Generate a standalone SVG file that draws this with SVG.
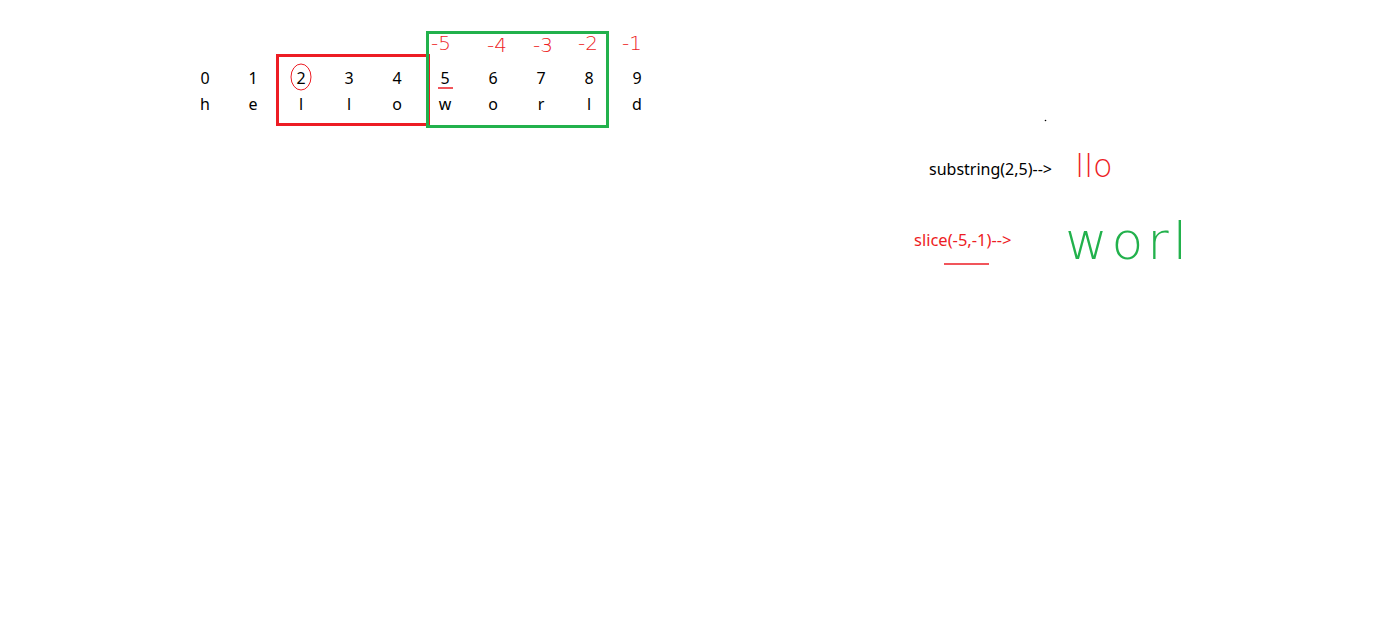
<svg xmlns="http://www.w3.org/2000/svg" width="1379" height="635" viewBox="0 0 1379 635">
<style>
.t{font-family:"Noto Sans","Liberation Sans",sans-serif;font-size:16px;fill:#000;text-anchor:middle}
.hw{font-family:"DejaVu Sans","Liberation Sans",sans-serif;font-weight:200;fill:none;text-anchor:middle}
.red{fill:#ed1c24}
.green{fill:#22b14c}
</style>
<rect width="1379" height="635" fill="#fff"/>
<g id="index-row">
<text class="t" x="205" y="84">0</text>
<text class="t" x="253" y="84">1</text>
<text class="t" x="301" y="84">2</text>
<text class="t" x="349" y="84">3</text>
<text class="t" x="397" y="84">4</text>
<text class="t" x="445" y="84">5</text>
<text class="t" x="493" y="84">6</text>
<text class="t" x="541" y="84">7</text>
<text class="t" x="589" y="84">8</text>
<text class="t" x="637" y="84">9</text>
</g>
<g id="char-row">
<text class="t" x="205" y="110">h</text>
<text class="t" x="253" y="110">e</text>
<text class="t" x="301" y="110">l</text>
<text class="t" x="349" y="110">l</text>
<text class="t" x="397" y="110">o</text>
<text class="t" x="445" y="110">w</text>
<text class="t" x="493" y="110">o</text>
<text class="t" x="541" y="110">r</text>
<text class="t" x="589" y="110">l</text>
<text class="t" x="637" y="110">d</text>
</g>
<g id="red-box">
<rect x="277.5" y="55.5" width="151" height="69" fill="none" stroke="#ed1c24" stroke-width="3"/>
<ellipse cx="301" cy="77" rx="10" ry="13" fill="none" stroke="#ed1c24" stroke-width="1"/>
</g>
<g id="green-box">
<rect x="427.5" y="32.5" width="180" height="94" fill="none" stroke="#22b14c" stroke-width="3"/>
<line x1="438" y1="88" x2="453" y2="88" stroke="#ed1c24" stroke-width="1.5"/>
</g>
<g id="negative-indices" font-size="20">
<text class="hw red" x="441" y="50">-5</text>
<text class="hw red" x="497" y="52">-4</text>
<text class="hw red" x="543" y="52">-3</text>
<text class="hw red" x="588" y="50">-2</text>
<text class="hw red" x="632" y="50">-1</text>
</g>
<circle cx="1045.5" cy="120.5" r="0.8" fill="#000"/>
<g id="substring">
<text x="929" y="175" font-family="Noto Sans,Liberation Sans,sans-serif" font-size="16" fill="#000">substring(2,5)--&gt;</text>
<text class="hw red" x="1094" y="177" font-size="32">llo</text>
</g>
<g id="slice">
<text x="914" y="246" font-family="Noto Sans,Liberation Sans,sans-serif" font-size="16.5" fill="#ed1c24">slice(-5,-1)--&gt;</text>
<line x1="944" y1="264" x2="989" y2="264" stroke="#ed1c24" stroke-width="1.5"/>
<text class="hw green" x="1128" y="259" font-size="52" letter-spacing="4">worl</text>
</g>
</svg>
